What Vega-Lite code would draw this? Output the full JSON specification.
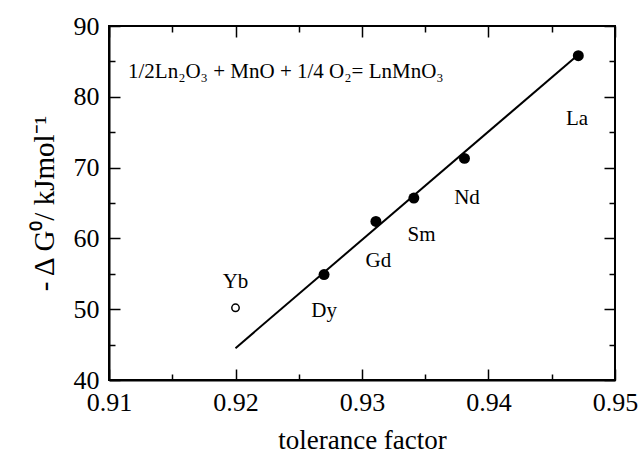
{
  "$schema": "https://vega.github.io/schema/vega-lite/v6.json",
  "width": 506,
  "height": 354,
  "autosize": "none",
  "padding": {"left": 109, "top": 26, "right": 27, "bottom": 79},
  "background": "white",
  "config": {
    "font": "Liberation Serif",
    "view": {"stroke": "black", "strokeWidth": 2},
    "axis": {
      "domainColor": "black", "domainWidth": 2, "tickColor": "black", "tickWidth": 1.5,
      "labelFont": "Liberation Serif, serif", "labelFontSize": 26, "labelColor": "black",
      "titleFont": "Liberation Serif, serif", "titleFontSize": 27, "titleFontWeight": "normal", "titleColor": "black",
      "grid": false
    }
  },
  "datasets": {
    "line": [{"t": 0.920, "g": 44.5}, {"t": 0.947, "g": 85.8}],
    "pts": [
      {"t": 0.9471, "g": 85.8, "ln": "La"},
      {"t": 0.9381, "g": 71.3, "ln": "Nd"},
      {"t": 0.9341, "g": 65.7, "ln": "Sm"},
      {"t": 0.9311, "g": 62.4, "ln": "Gd"},
      {"t": 0.9270, "g": 54.9, "ln": "Dy"}
    ],
    "open": [{"t": 0.9200, "g": 50.2, "ln": "Yb"}],
    "labels": [
      {"t": 0.9470, "g": 76.9, "ln": "La"},
      {"t": 0.9383, "g": 65.7, "ln": "Nd"},
      {"t": 0.9347, "g": 60.5, "ln": "Sm"},
      {"t": 0.9313, "g": 56.8, "ln": "Gd"},
      {"t": 0.9270, "g": 49.8, "ln": "Dy"},
      {"t": 0.9200, "g": 53.9, "ln": "Yb"}
    ],
    "eq": [{"t": 0.9115, "g": 83.5, "s": "1/2Ln₂O₃ + MnO + 1/4 O₂= LnMnO₃"}]
  },
  "resolve": {"axis": {"x": "independent", "y": "independent"}},
  "layer": [
    {
      "data": {"name": "line"},
      "mark": {"type": "line", "color": "black", "strokeWidth": 2},
      "encoding": {
        "x": {"field": "t", "type": "quantitative", "scale": {"domain": [0.91, 0.95], "nice": false, "zero": false},
              "axis": {"orient": "bottom", "values": [0.91, 0.92, 0.93, 0.94, 0.95], "format": ".2f", "tickSize": -11, "labelPadding": 20, "labelFlush": false, "title": "tolerance factor", "titlePadding": 12}},
        "y": {"field": "g", "type": "quantitative", "scale": {"domain": [40, 90], "nice": false, "zero": false},
              "axis": {"orient": "left", "values": [40, 50, 60, 70, 80, 90], "tickSize": -11, "labelPadding": 21, "title": "- Δ G⁰/ kJmol⁻¹", "titleFontSize": 29, "titlePadding": 14}}
      }
    },
    {
      "data": {"name": "pts"},
      "mark": {"type": "point", "filled": true, "color": "black", "size": 120, "opacity": 1},
      "encoding": {
        "x": {"field": "t", "type": "quantitative", "scale": {"domain": [0.91, 0.95], "nice": false, "zero": false},
              "axis": {"orient": "top", "values": [0.91, 0.92, 0.93, 0.94, 0.95], "tickSize": -11, "labels": false, "title": null, "domain": false}},
        "y": {"field": "g", "type": "quantitative", "scale": {"domain": [40, 90], "nice": false, "zero": false},
              "axis": {"orient": "right", "values": [40, 50, 60, 70, 80, 90], "tickSize": -11, "labels": false, "title": null, "domain": false}}
      }
    },
    {
      "data": {"name": "open"},
      "mark": {"type": "point", "filled": false, "color": "black", "size": 55, "strokeWidth": 1.5, "opacity": 1},
      "encoding": {
        "x": {"field": "t", "type": "quantitative", "scale": {"domain": [0.91, 0.95], "nice": false, "zero": false},
              "axis": {"orient": "bottom", "values": [0.915, 0.925, 0.935, 0.945], "tickSize": -6, "labels": false, "title": null, "domain": false}},
        "y": {"field": "g", "type": "quantitative", "scale": {"domain": [40, 90], "nice": false, "zero": false},
              "axis": {"orient": "left", "values": [45, 55, 65, 75, 85], "tickSize": -6, "labels": false, "title": null, "domain": false}}
      }
    },
    {
      "data": {"name": "labels"},
      "mark": {"type": "text", "font": "Liberation Serif", "fontSize": 21, "color": "black", "align": "center", "baseline": "middle"},
      "encoding": {
        "text": {"field": "ln"},
        "x": {"field": "t", "type": "quantitative", "scale": {"domain": [0.91, 0.95], "nice": false, "zero": false},
              "axis": {"orient": "top", "values": [0.915, 0.925, 0.935, 0.945], "tickSize": -6, "labels": false, "title": null, "domain": false}},
        "y": {"field": "g", "type": "quantitative", "scale": {"domain": [40, 90], "nice": false, "zero": false},
              "axis": {"orient": "right", "values": [45, 55, 65, 75, 85], "tickSize": -6, "labels": false, "title": null, "domain": false}}
      }
    },
    {
      "data": {"name": "eq"},
      "mark": {"type": "text", "font": "Liberation Serif", "fontSize": 21, "color": "black", "align": "left", "baseline": "middle"},
      "encoding": {
        "text": {"field": "s"},
        "x": {"field": "t", "type": "quantitative", "scale": {"domain": [0.91, 0.95], "nice": false, "zero": false}, "axis": null},
        "y": {"field": "g", "type": "quantitative", "scale": {"domain": [40, 90], "nice": false, "zero": false}, "axis": null}
      }
    }
  ]
}
